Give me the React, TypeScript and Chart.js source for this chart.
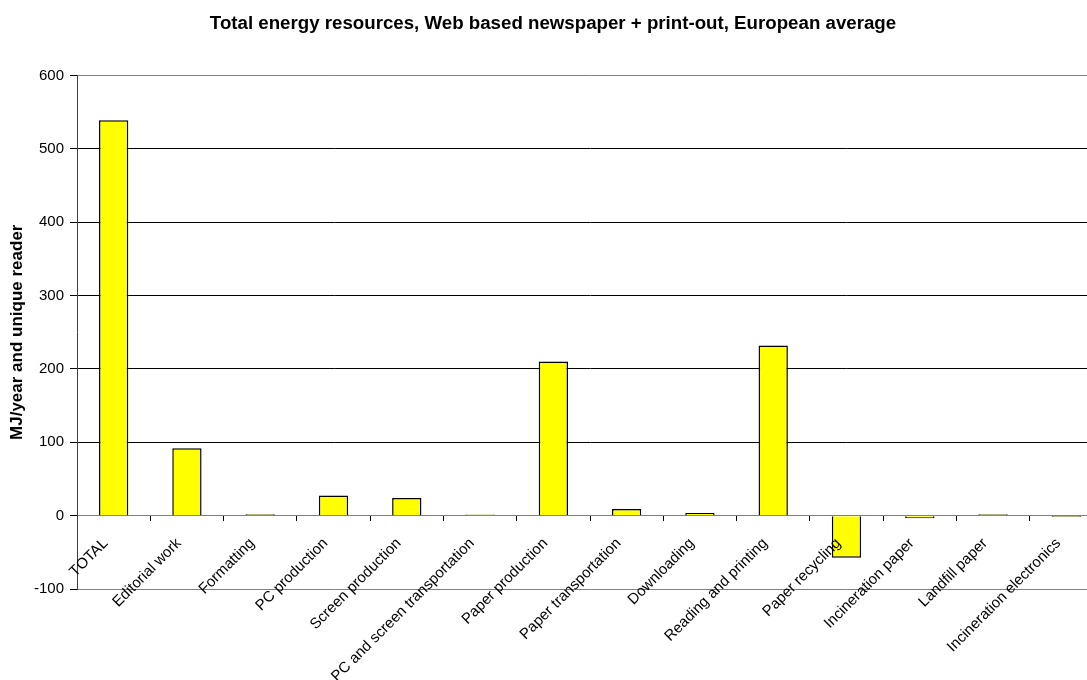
import React, { useEffect, useRef } from "react";
import { Chart, registerables } from "chart.js";

Chart.register(...registerables);

const chartTitle = "Total energy resources, Web based newspaper + print-out, European average";
const yAxisTitle = "MJ/year and unique reader";

const categories = [
  "TOTAL",
  "Editorial work",
  "Formatting",
  "PC production",
  "Screen production",
  "PC and screen transportation",
  "Paper production",
  "Paper transportation",
  "Downloading",
  "Reading and printing",
  "Paper recycling",
  "Incineration paper",
  "Landfill paper",
  "Incineration electronics",
];

const energyValues = [539, 92, 2, 27.5, 24, 1.6, 210, 9, 3.7, 232, -57.5, -3.6, 2, -1.8];

const yMin = -100;
const yMax = 600;
const yStep = 100;

const FONT = "'Liberation Sans', Arial, Helvetica, sans-serif";

export default function App() {
  const canvasRef = useRef<HTMLCanvasElement | null>(null);

  useEffect(() => {
    const canvas = canvasRef.current;
    if (!canvas) return;
    const chart = new Chart(canvas, {
      type: "bar",
      data: {
        labels: categories,
        datasets: [
          {
            label: "Energy",
            data: energyValues,
            backgroundColor: "#FFFF00",
            borderColor: "#000000",
            borderWidth: 1.5,
            categoryPercentage: 1,
            barPercentage: 0.4,
          },
        ],
      },
      options: {
        animation: false,
        responsive: true,
        maintainAspectRatio: false,
        devicePixelRatio: 1,
        layout: { padding: { left: 3, right: 0, top: 0, bottom: 91 } },
        plugins: {
          legend: { display: false },
          tooltip: { enabled: false },
          title: {
            display: true,
            text: chartTitle,
            color: "#000000",
            font: { family: FONT, size: 18.7, weight: "bold" },
            padding: { top: 13, bottom: 40 },
          },
        },
        scales: {
          x: {
            position: { y: 0 } as any,
            grid: {
              display: true,
              offset: true,
              drawOnChartArea: false,
              drawTicks: true,
              tickLength: 5,
              tickColor: "#000000",
            },
            border: { display: true, color: "#808080", width: 1 },
            ticks: {
              z: 1,
              autoSkip: false,
              minRotation: 45,
              maxRotation: 45,
              padding: 14,
              labelOffset: -8,
              color: "#000000",
              font: { family: FONT, size: 15 },
            },
          },
          y: {
            min: yMin,
            max: yMax,
            afterFit: (scale: any) => {
              scale.width = 74;
            },
            ticks: {
              stepSize: yStep,
              color: "#000000",
              padding: 6,
              font: { family: FONT, size: 15 },
            },
            grid: {
              drawTicks: true,
              tickLength: 7,
              tickColor: "#000000",
              color: (ctx: any) => {
                const v = ctx.tick ? ctx.tick.value : null;
                if (v === 0 || v === yMin || v === yMax) return "#808080";
                return "#000000";
              },
              lineWidth: 1,
            },
            border: { display: true, color: "#404040", width: 1 },
            title: {
              display: true,
              text: yAxisTitle,
              color: "#000000",
              font: { family: FONT, size: 17, weight: "bold" },
              padding: { top: 4, bottom: 0 },
            },
          },
        },
      },
    });
    return () => chart.destroy();
  }, []);

  return (
    <div
      style={{
        position: "fixed",
        left: 0,
        top: 0,
        width: 1087,
        height: 680,
        background: "#ffffff",
        overflow: "hidden",
      }}
    >
      <div style={{ position: "absolute", left: 0, top: 0, width: 1103, height: 680 }}>
        <canvas ref={canvasRef} />
      </div>
    </div>
  );
}
